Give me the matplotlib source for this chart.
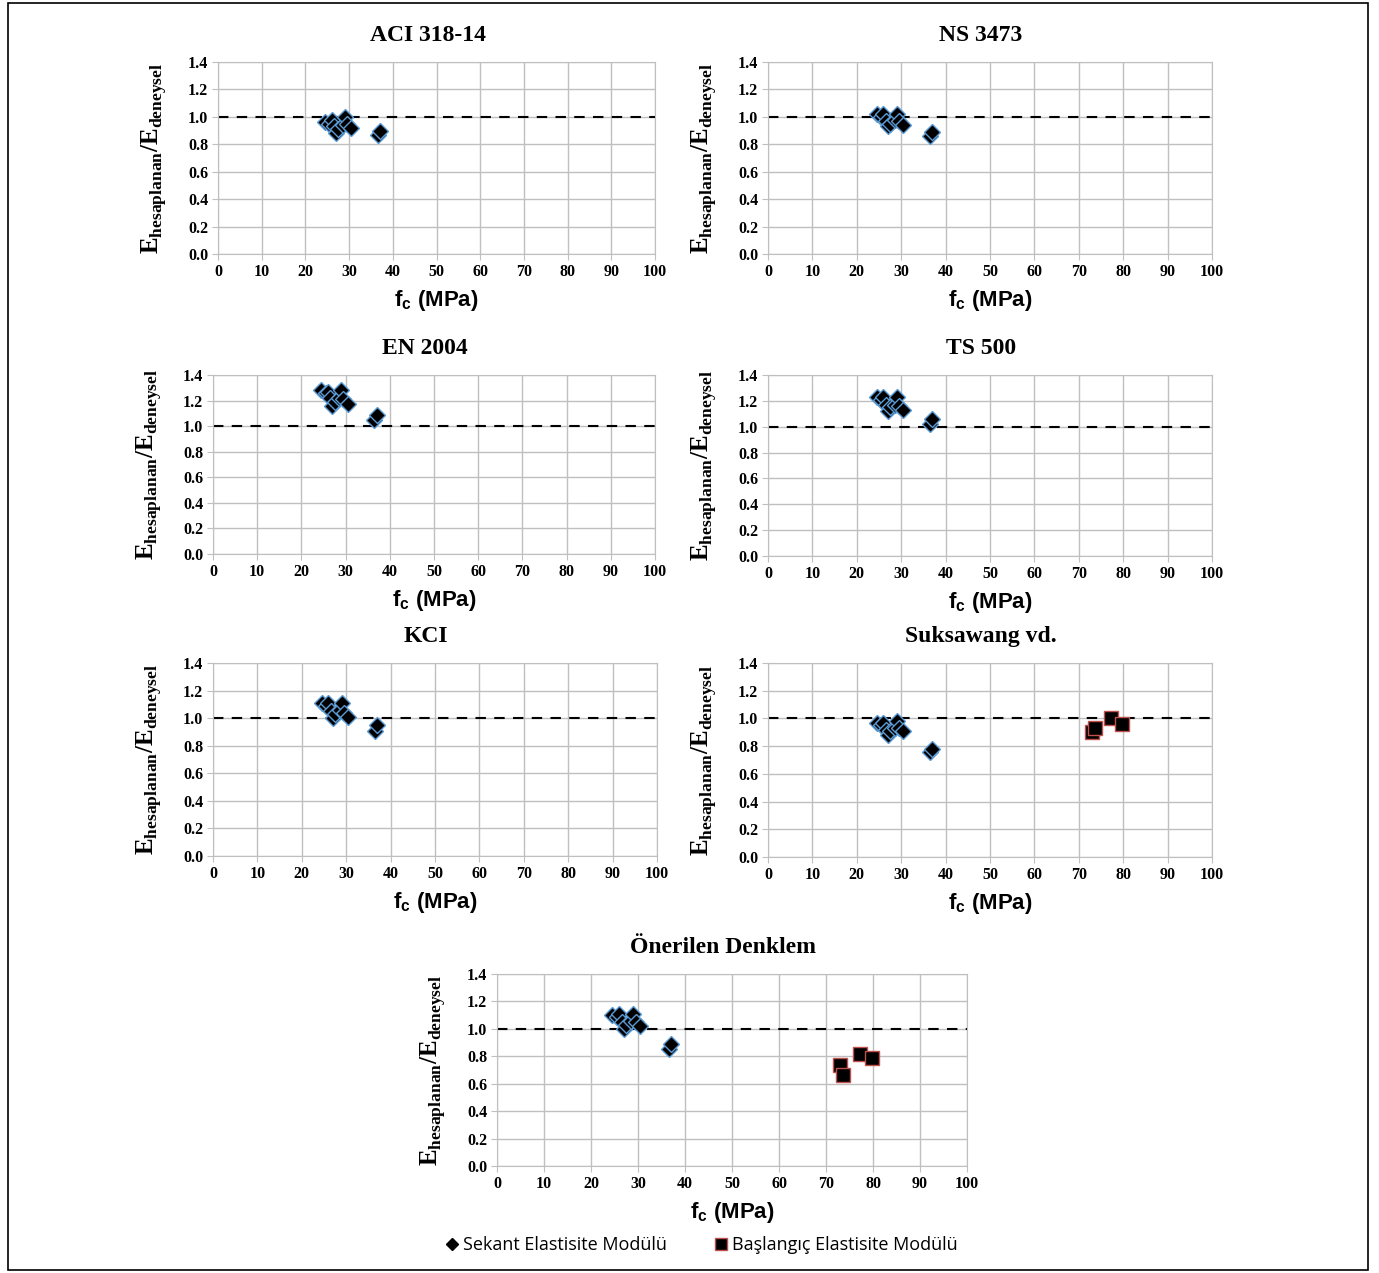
import matplotlib.pyplot as plt
from matplotlib.patches import Rectangle

plt.rcParams['mathtext.fontset'] = 'custom'
plt.rcParams['mathtext.bf'] = 'Liberation Serif:bold'
plt.rcParams['mathtext.sf'] = 'Liberation Sans:bold'

# sekant modulus points (same fc for every code)
fc_sekant = [24.5, 25.5, 26.0, 26.5, 27.0, 27.5, 28.5, 29.0, 29.5, 30.5, 36.5, 37.0]
aci = [0.96, 0.95, 0.98, 0.93, 0.88, 0.91, 0.94, 1.00, 0.95, 0.92, 0.87, 0.90]
ns = [1.02, 1.00, 1.02, 0.97, 0.93, 0.95, 0.98, 1.02, 0.97, 0.94, 0.86, 0.89]
en = [1.28, 1.26, 1.27, 1.22, 1.16, 1.19, 1.22, 1.28, 1.21, 1.17, 1.05, 1.09]
ts = [1.23, 1.21, 1.23, 1.17, 1.12, 1.15, 1.17, 1.23, 1.16, 1.13, 1.02, 1.06]
kci = [1.11, 1.09, 1.11, 1.05, 1.00, 1.03, 1.06, 1.11, 1.04, 1.01, 0.91, 0.95]
suk = [0.97, 0.95, 0.97, 0.92, 0.88, 0.91, 0.93, 0.98, 0.93, 0.91, 0.76, 0.78]
oner = [1.10, 1.09, 1.11, 1.05, 1.00, 1.03, 1.06, 1.11, 1.05, 1.02, 0.85, 0.89]

# initial modulus points
fc_initial = [73.0, 73.6, 77.2, 79.8]
suk_initial = [0.90, 0.93, 1.00, 0.96]
oner_initial = [0.74, 0.66, 0.82, 0.79]

titles = ['ACI 318-14', 'NS 3473', 'EN 2004', 'TS 500', 'KCI', 'Suksawang vd.', 'Önerilen Denklem']
sekant_sets = [aci, ns, en, ts, kci, suk, oner]
initial_sets = [None, None, None, None, None, suk_initial, oner_initial]

W, H = 1379, 1273
# axes boxes in pixels: left, top, right, bottom
boxes = [
    (218, 62, 655, 254),
    (768, 62, 1212, 254),
    (213, 375, 655, 554),
    (768, 375, 1212, 556),
    (213, 663, 657, 856),
    (768, 663, 1212, 857),
    (497, 974, 967, 1166),
]

fig = plt.figure(figsize=(W / 100, H / 100), dpi=100)
fig.patches.append(Rectangle((8 / W, 1 - 1270 / H), 1360 / W, 1267 / H,
                             transform=fig.transFigure, fill=False,
                             edgecolor='black', linewidth=1.2))

grid_col = '#BFBFBF'
serif = 'Liberation Serif'

for i, (l, t, r, b) in enumerate(boxes):
    ax = fig.add_axes([l / W, 1 - b / H, (r - l) / W, (b - t) / H])
    ax.set_xlim(0, 100)
    ax.set_ylim(0, 1.4)
    ax.set_xticks(range(0, 101, 10))
    ax.set_yticks([0.2 * k for k in range(8)])
    ax.set_yticklabels(['%.1f' % (0.2 * k) for k in range(8)])
    ax.grid(True, color=grid_col, linewidth=1.0)
    ax.set_axisbelow(True)
    for s in ax.spines.values():
        s.set_color(grid_col)
    ax.tick_params(length=4, color=grid_col, labelsize=11.5, pad=3)
    for lab in ax.get_xticklabels() + ax.get_yticklabels():
        lab.set_fontfamily(serif)
        lab.set_fontweight('bold')

    ax.axhline(1.0, color='black', linestyle=(0, (5, 4)), linewidth=1.5, zorder=2)

    ax.plot(fc_sekant, sekant_sets[i], linestyle='none', marker='D', markersize=8.5,
            markerfacecolor='black', markeredgecolor='#5B9BD5', markeredgewidth=1.0, zorder=3)
    if initial_sets[i] is not None:
        ax.plot(fc_initial, initial_sets[i], linestyle='none', marker='s', markersize=10,
                markerfacecolor='black', markeredgecolor='#C0504D', markeredgewidth=1.0, zorder=3)

    ax.set_title(titles[i], fontfamily=serif, fontweight='bold', fontsize=17, pad=15,
                 x=0.5 - 9 / (r - l))
    ax.set_ylabel(r'E$_{\mathbf{hesaplanan}}$/E$_{\mathbf{deneysel}}$',
                  fontfamily=serif, fontweight='bold', fontsize=18, labelpad=14)
    ax.set_xlabel(r'f$_{\mathsf{c}}$ (MPa)', fontfamily='Liberation Sans',
                  fontweight='bold', fontsize=16, labelpad=6)

# legend
h1, = fig.axes[-1].plot([], [], linestyle='none', marker='D', markersize=6,
                        markerfacecolor='black', markeredgecolor='black')
h2, = fig.axes[-1].plot([], [], linestyle='none', marker='s', markersize=8,
                        markerfacecolor='black', markeredgecolor='#C0504D')
fig.legend([h1, h2], ['Sekant Elastisite Modülü', 'Başlangıç Elastisite Modülü'],
           loc='center', bbox_to_anchor=(700 / W, 1 - 1245 / H), ncol=2, frameon=False,
           handletextpad=0.1, columnspacing=2.5, handlelength=1.0,
           prop={'family': 'Open Sans', 'size': 13})

fig.savefig('out.png', dpi=100)
